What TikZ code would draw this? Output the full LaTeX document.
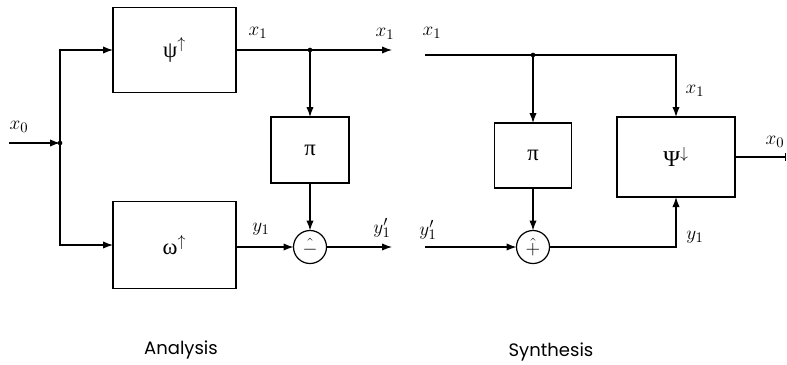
\documentclass[tikz,border=0pt]{standalone}
\usepackage{fontspec}
\newfontfamily\gr{Liberation Serif}
\newfontfamily\capf{Poppins}
\usetikzlibrary{arrows.meta}
\begin{document}
\begin{tikzpicture}[x=0.75pt,y=-0.75pt, line width=0.9pt,
  box/.style={draw, rectangle, inner sep=0pt, outer sep=0pt, font=\gr\fontsize{17}{19}\selectfont},
  sumc/.style={draw, circle, minimum size=24.75pt, inner sep=0pt, outer sep=0pt, font=\fontsize{15}{17}\selectfont},
  arr/.style={-{Latex[length=7.5pt,width=5.5pt]}},
  lab/.style={font=\fontsize{15}{17}\selectfont, inner sep=0pt},
  jdot/.style={circle, fill, inner sep=0pt, minimum size=3.5pt},
  captxt/.style={font=\capf\fontsize{13.5}{15}\selectfont, inner sep=0pt}]
\useasboundingbox (0,0) rectangle (787,364);

% ---------- Analysis ----------
\node[box, minimum width=92.25pt, minimum height=63.75pt] (psiU) at (174.5,50) {ψ$^{\uparrow}$};
\node[box, minimum width=92.25pt, minimum height=65.25pt] (omU) at (174.5,245) {ω$^{\uparrow}$};
\node[box, minimum width=58.5pt, minimum height=49.5pt] (piA) at (310,150) {π};
\node[sumc] (cA) at (310,247) {$\hat{\mathord{-}}$};

\coordinate (in0) at (9,143);
\coordinate (j0) at (60,143);
\coordinate (x1endA) at (392,50);
\coordinate (jA) at (310,50);
\coordinate (y1endA) at (392,247);

\draw[arr] (in0) -- (j0);
\node[jdot] (d0) at (j0) {};
\draw[arr] (j0) |- (psiU.west);
\draw[arr] (j0) |- (omU.west);
\draw[arr] (psiU.east) -- (x1endA);
\node[jdot] (dA) at (jA) {};
\draw[arr] (jA) -- (piA.north);
\draw[arr] (piA.south) -- (cA.north);
\draw[arr] (omU.east |- cA.west) -- (cA.west);
\draw[arr] (cA.east) -- (y1endA);

\node[lab] (lx0a) at (19,127) {$x_0$};
\node[lab] (lx1a) at (258,33) {$x_1$};
\node[lab] (lx1b) at (385,34) {$x_1$};
\node[lab] (ly1a) at (261,229) {$y_1$};
\node[lab] (ly1pa) at (382,228) {$y_1'$};

% ---------- Synthesis ----------
\node[box, minimum width=88.5pt, minimum height=60pt] (psiD) at (676,157) {Ψ$^{\downarrow}$};
\node[box, minimum width=57.75pt, minimum height=48.75pt] (piS) at (533,155.5) {π};
\node[sumc] (cS) at (533,247) {$\hat{+}$};

\coordinate (x1inS) at (425,55);
\coordinate (jS) at (533,55);
\coordinate (y1inS) at (425,247);
\coordinate (x0out) at (786,157);

\draw (x1inS) -- (jS);
\node[jdot] (dS) at (jS) {};
\draw[arr] (jS) -| (psiD.north);
\draw[arr] (jS) -- (piS.north);
\draw[arr] (piS.south) -- (cS.north);
\draw[arr] (y1inS) -- (cS.west);
\draw[arr] (cS.east) -| (psiD.south);
\draw[-{Bar[width=6pt]}] (psiD.east) -- (x0out);

\node[lab] (lx1c) at (432,33) {$x_1$};
\node[lab] (lx1d) at (695,91) {$x_1$};
\node[lab] (lx0b) at (775,142) {$x_0$};
\node[lab] (ly1pb) at (428,230) {$y_1'$};
\node[lab] (ly1b) at (695,237) {$y_1$};

% ---------- captions ----------
\node[captxt] (capA) at (181,350) {Analysis};
\node[captxt] (capS) at (551,352) {Synthesis};
\end{tikzpicture}
\end{document}
